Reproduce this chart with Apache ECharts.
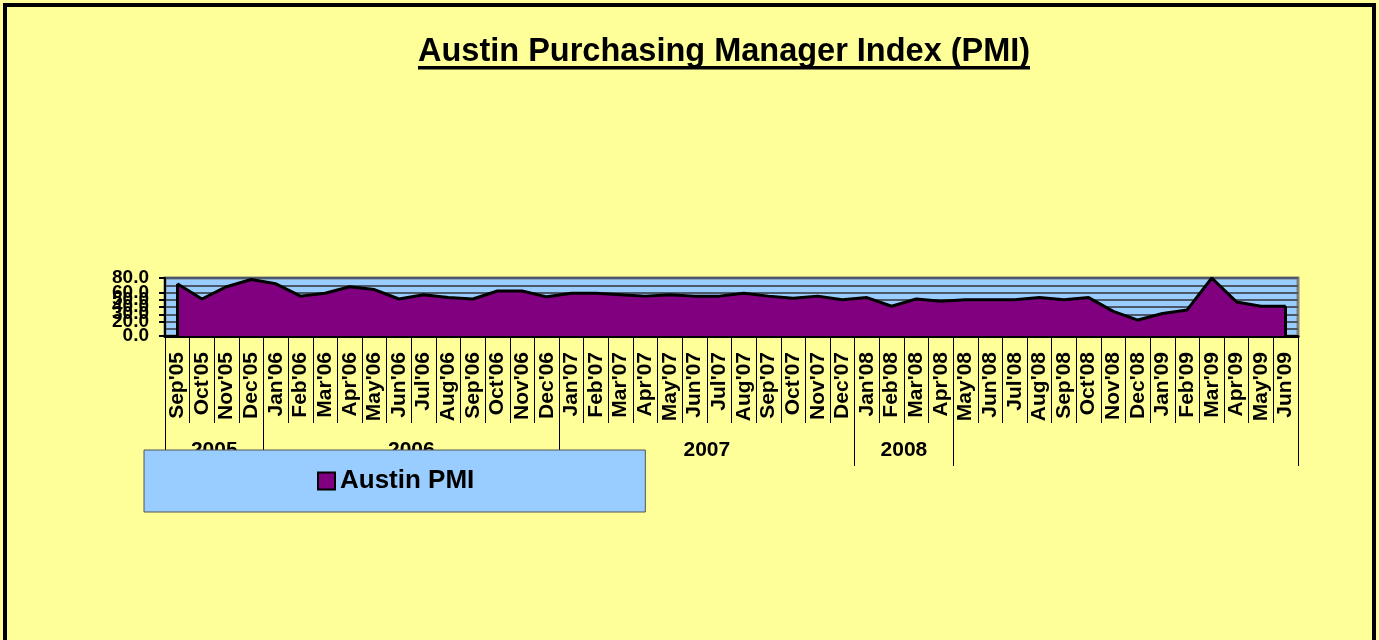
<!DOCTYPE html>
<html>
<head>
<meta charset="utf-8">
<script src="https://cdn.jsdelivr.net/npm/echarts@6/dist/echarts.min.js"></script>
<style>
html,body{margin:0;padding:0;background:#FFFF99;}
#chart{width:1379px;height:640px;}
</style>
</head>
<body>
<div id="chart"></div>
<script>
var categories = ["Sep'05","Oct'05","Nov'05","Dec'05",
  "Jan'06","Feb'06","Mar'06","Apr'06","May'06","Jun'06","Jul'06","Aug'06","Sep'06","Oct'06","Nov'06","Dec'06",
  "Jan'07","Feb'07","Mar'07","Apr'07","May'07","Jun'07","Jul'07","Aug'07","Sep'07","Oct'07","Nov'07","Dec'07",
  "Jan'08","Feb'08","Mar'08","Apr'08","May'08","Jun'08","Jul'08","Aug'08","Sep'08","Oct'08","Nov'08","Dec'08",
  "Jan'09","Feb'09","Mar'09","Apr'09","May'09","Jun'09"];
var austinPMI = [72,51,68,78,
  72,55,59,68,64,51,57,53,51,62,62,54,
  59,59,57,55,57,55,55,59,55,52,55,50,
  53,41,51,48,50,50,50,53,50,53,34,22,
  31,36,80,47,41,41];
var yearLabels = ["2005","2006","2007","2008",""];
var yearBounds = [0,4,16,28,32,46];

var yearMids = [];
for (var i = 0; i < yearLabels.length; i++) {
  if (yearLabels[i]) yearMids.push((yearBounds[i] + yearBounds[i+1]) / 2);
}
function yearFor(v) {
  for (var i = 0; i < yearLabels.length; i++) {
    if (v > yearBounds[i] && v < yearBounds[i+1]) return yearLabels[i];
  }
  return '';
}
var last = categories.length - 1;
var FONT = 'Liberation Sans, Arial, sans-serif';

var chart = echarts.init(document.getElementById('chart'), null, {renderer: 'canvas'});
chart.setOption({
  backgroundColor: '#FFFF99',
  animation: false,
  title: {
    text: 'Austin Purchasing Manager Index (PMI)',
    left: 413, top: 31,
    textStyle: {fontSize: 32.5, fontWeight: 'bold', color: '#000', fontFamily: FONT}
  },
  graphic: [
    {type: 'rect', shape: {x: 5, y: 5, width: 1369, height: 700}, style: {fill: 'none', stroke: '#000', lineWidth: 4}, silent: true},
    {type: 'rect', shape: {x: 418, y: 66, width: 612, height: 3.5}, style: {fill: '#000'}, silent: true}
  ],
  legend: {
    left: 144, top: 450,
    padding: [18, 171, 18, 173],
    backgroundColor: '#99CCFF',
    borderColor: '#555', borderWidth: 1,
    itemWidth: 17, itemHeight: 17, itemGap: 8,
    icon: 'rect',
    data: [{name: 'Austin PMI', itemStyle: {color: '#800080', borderColor: '#000', borderWidth: 2}}],
    textStyle: {fontSize: 26, fontWeight: 'bold', color: '#000', fontFamily: FONT}
  },
  grid: {
    left: 165, right: 81, top: 278, height: 58,
    show: true, backgroundColor: '#99CCFF', borderColor: '#808080', borderWidth: 3
  },
  xAxis: [
    {
      type: 'category', data: categories, boundaryGap: true,
      axisLine: {lineStyle: {color: '#000', width: 3}},
      axisTick: {show: true, interval: 0, length: 87, lineStyle: {color: '#000', width: 1}},
      axisLabel: {interval: 0, rotate: 90, margin: 16, fontSize: 21, fontWeight: 'bold', color: '#000', fontFamily: FONT},
      splitLine: {show: false}
    },
    {
      type: 'value', min: 0, max: 46, position: 'bottom',
      axisLine: {show: false},
      axisTick: {show: true, customValues: yearBounds, length: 130, lineStyle: {color: '#000', width: 1}},
      axisLabel: {customValues: yearMids, margin: 104, formatter: function (v) { return yearFor(v); },
        fontSize: 21, fontWeight: 'bold', color: '#000', fontFamily: FONT},
      splitLine: {show: false}
    }
  ],
  yAxis: {
    type: 'value', min: 0, max: 80, interval: 10,
    axisLine: {show: true, lineStyle: {color: '#000', width: 2}},
    axisTick: {show: true, length: 6, lineStyle: {color: '#000', width: 2}},
    axisLabel: {margin: 16, fontSize: 19, fontWeight: 'bold', color: '#000', fontFamily: FONT,
      showMinLabel: true, showMaxLabel: true, hideOverlap: false,
      formatter: function (v) { return v.toFixed(1); }},
    splitLine: {show: true, lineStyle: {color: '#4a5868', width: 2}}
  },
  series: [{
    name: 'Austin PMI', type: 'line', data: austinPMI,
    xAxisIndex: 0, yAxisIndex: 0,
    symbol: 'none',
    lineStyle: {color: '#000', width: 3},
    itemStyle: {color: '#800080'},
    areaStyle: {color: '#800080', opacity: 1},
    markLine: {
      silent: true, symbol: ['none', 'none'],
      label: {show: false},
      lineStyle: {color: '#000', width: 3, type: 'solid'},
      data: [
        [{coord: [categories[0], 0]}, {coord: [categories[0], austinPMI[0]]}],
        [{coord: [categories[last], 0]}, {coord: [categories[last], austinPMI[last]]}]
      ]
    }
  }]
});
</script>
</body>
</html>
